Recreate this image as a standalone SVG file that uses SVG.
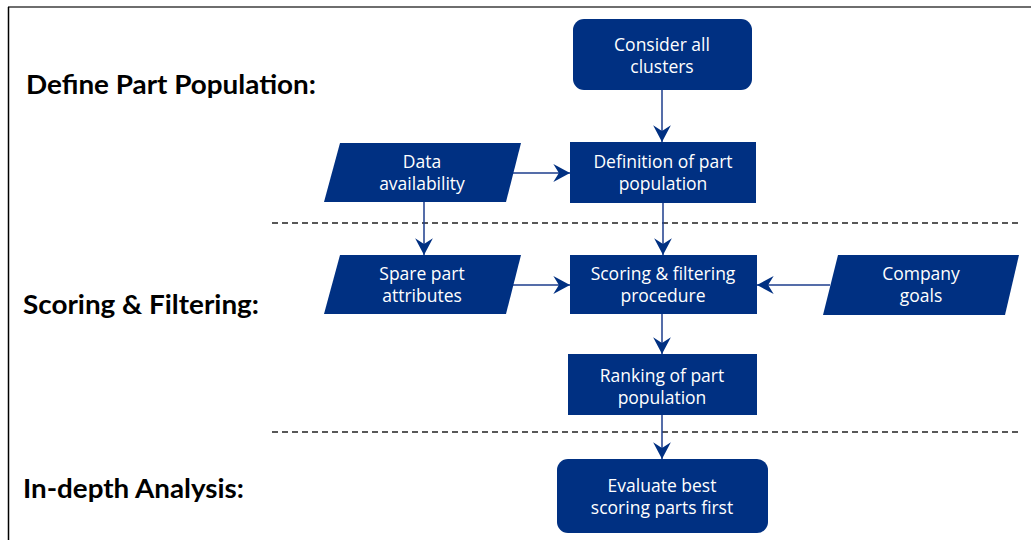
<svg xmlns="http://www.w3.org/2000/svg" width="1031" height="540" viewBox="0 0 1031 540">
  <defs>
    <style>
      .box { fill: #003082; }
      .lbl { fill: #ffffff; font-family: "Open Sans", "Noto Sans", "DejaVu Sans", sans-serif; font-size: 17.5px; text-anchor: middle; }
      .stage { fill: #000000; font-family: Lato, "Liberation Sans", sans-serif; font-weight: bold; font-size: 26px; }
      .flow { stroke: #1d3d8c; stroke-width: 1.5; fill: none; marker-end: url(#arr); }
      .sep { stroke: #222222; stroke-width: 1.5; stroke-dasharray: 6 4; fill: none; }
    </style>
    <marker id="arr" markerUnits="userSpaceOnUse" markerWidth="20" markerHeight="20" viewBox="-16 -9 18 18" refX="0" refY="0" orient="auto">
      <path d="M0,0 L-15,-8 L-10,0 L-15,8 Z" fill="#003082"/>
    </marker>
  </defs>

  <rect width="1031" height="540" fill="#ffffff"/>

  <!-- frame -->
  <line x1="8" y1="7" x2="1031" y2="7" stroke="#6e6e6e" stroke-width="2"/>
  <line x1="8.5" y1="7" x2="8.5" y2="540" stroke="#000000" stroke-width="1.5"/>

  <!-- stage headings -->
  <text class="stage" x="26" y="94" textLength="290" lengthAdjust="spacingAndGlyphs">Define Part Population:</text>
  <text class="stage" x="23" y="314" textLength="236" lengthAdjust="spacingAndGlyphs">Scoring &amp; Filtering:</text>
  <text class="stage" x="23" y="498" textLength="221" lengthAdjust="spacingAndGlyphs">In-depth Analysis:</text>

  <!-- stage separators -->
  <line class="sep" x1="272" y1="223" x2="1022" y2="223"/>
  <line class="sep" x1="272" y1="432" x2="1022" y2="432"/>

  <!-- connectors -->
  <g id="connectors">
    <line class="flow" x1="662" y1="90" x2="662" y2="142"/>
    <line class="flow" x1="513" y1="173" x2="570" y2="173"/>
    <line class="flow" x1="424" y1="202" x2="424" y2="255"/>
    <line class="flow" x1="663" y1="203" x2="663" y2="255"/>
    <line class="flow" x1="513" y1="285" x2="570" y2="285"/>
    <line class="flow" x1="830" y1="285" x2="757" y2="285"/>
    <line class="flow" x1="662" y1="314" x2="662" y2="354"/>
    <line class="flow" x1="662" y1="415" x2="662" y2="459"/>
  </g>

  <g id="consider">
    <rect class="box" x="573" y="19" width="179" height="71" rx="11"/>
    <text class="lbl" x="662" y="51">Consider all</text>
    <text class="lbl" x="662" y="73">clusters</text>
  </g>

  <g id="definition">
    <rect class="box" x="570" y="142" width="186" height="61"/>
    <text class="lbl" x="663" y="168">Definition of part</text>
    <text class="lbl" x="663" y="190">population</text>
  </g>

  <g id="data">
    <polygon class="box" points="340,143 521,143 506,202 324,202"/>
    <text class="lbl" x="422" y="168">Data</text>
    <text class="lbl" x="422" y="190">availability</text>
  </g>

  <g id="spare">
    <polygon class="box" points="340,255 521,255 506,314 324,314"/>
    <text class="lbl" x="422" y="280">Spare part</text>
    <text class="lbl" x="422" y="302">attributes</text>
  </g>

  <g id="scoring">
    <rect class="box" x="570" y="255" width="187" height="59"/>
    <text class="lbl" x="663" y="280">Scoring &amp; filtering</text>
    <text class="lbl" x="663" y="302">procedure</text>
  </g>

  <g id="company">
    <polygon class="box" points="838,255 1019,255 1005,315 823,315"/>
    <text class="lbl" x="921" y="280">Company</text>
    <text class="lbl" x="921" y="302">goals</text>
  </g>

  <g id="ranking">
    <rect class="box" x="568" y="354" width="189" height="61"/>
    <text class="lbl" x="662" y="382">Ranking of part</text>
    <text class="lbl" x="662" y="404">population</text>
  </g>

  <g id="evaluate">
    <rect class="box" x="557" y="459" width="211" height="74" rx="11"/>
    <text class="lbl" x="662" y="492">Evaluate best</text>
    <text class="lbl" x="662" y="514">scoring parts first</text>
  </g>
</svg>
